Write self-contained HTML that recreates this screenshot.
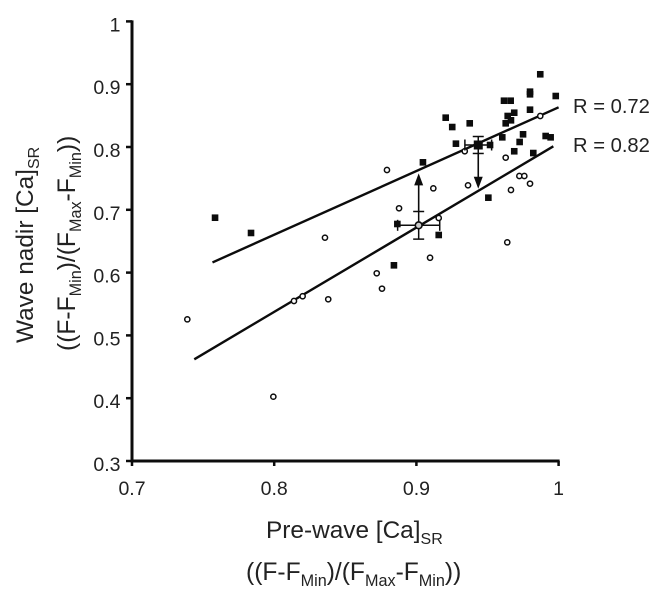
<!DOCTYPE html>
<html>
<head>
<meta charset="utf-8">
<title>Wave nadir vs pre-wave [Ca]SR</title>
<style>
html,body{margin:0;padding:0;background:#fff;width:666px;height:599px;overflow:hidden}
svg{display:block;font-family:"Liberation Sans",Arial,sans-serif;fill:#222}
</style>
</head>
<body>
<svg id="chart" xmlns="http://www.w3.org/2000/svg" width="666" height="599" viewBox="0 0 666 599">
<rect width="666" height="599" fill="#fff"/>
<g id="plot" style="filter:blur(0.35px)"></g>
<text x="266" y="538" font-size="24.4">Pre-wave [Ca]<tspan font-size="16" dy="6">SR</tspan></text>
<text x="246" y="580" font-size="24.6">((F-F<tspan font-size="16.2" dy="6">Min</tspan><tspan dy="-6">)/(F</tspan><tspan font-size="16.2" dy="6">Max</tspan><tspan dy="-6">-F</tspan><tspan font-size="16.2" dy="6">Min</tspan><tspan dy="-6">))</tspan></text>
<text transform="translate(33,343) rotate(-90)" font-size="24.4">Wave nadir [Ca]<tspan font-size="16" dy="6">SR</tspan></text>
<text transform="translate(75,351) rotate(-90)" font-size="24.6">((F-F<tspan font-size="16.2" dy="6">Min</tspan><tspan dy="-6">)/(F</tspan><tspan font-size="16.2" dy="6">Max</tspan><tspan dy="-6">-F</tspan><tspan font-size="16.2" dy="6">Min</tspan><tspan dy="-6">))</tspan></text>
<text x="573" y="113" font-size="20.2">R = 0.72</text>
<text x="573" y="152" font-size="20.2">R = 0.82</text>
</svg>
<script>
const xTicks = [0.7, 0.8, 0.9, 1];
const yTicks = [0.3, 0.4, 0.5, 0.6, 0.7, 0.8, 0.9, 1];
const squareX = [0.9871,0.9799,0.9799,0.998,0.9616,0.9663,0.9799,0.9688,0.9642,0.9665,0.9628,0.9206,0.9375,0.9252,0.9278,0.9604,0.975,0.9726,0.9909,0.9944,0.9688,0.9822,0.9518,0.9046,0.9506,0.8866,0.9157,0.7584,0.7837,0.8842];
const squareY = [0.9158,0.8881,0.8839,0.8812,0.8737,0.8737,0.8594,0.8546,0.8494,0.8425,0.8377,0.8467,0.8377,0.8318,0.8053,0.8154,0.8202,0.808,0.8175,0.8154,0.7932,0.7904,0.8032,0.7756,0.7193,0.6774,0.6599,0.6874,0.6631,0.6116];
const circleX = [0.9871,0.934,0.9628,0.8793,0.9724,0.9759,0.9799,0.9665,0.9363,0.9119,0.8878,0.9157,0.9639,0.9096,0.8357,0.8721,0.8758,0.838,0.82,0.8139,0.7389,0.7994];
const circleY = [0.8494,0.7932,0.783,0.7634,0.7538,0.7538,0.7416,0.7315,0.739,0.7342,0.7024,0.6869,0.6482,0.6237,0.6556,0.5989,0.5744,0.5575,0.5623,0.5548,0.5256,0.4024];
const fitUpperX = [0.7566, 1.0];
const fitUpperY = [0.6162, 0.8632];
const fitLowerX = [0.7438, 0.9963];
const fitLowerY = [0.4619, 0.8011];
const meanCircle = [0.9016, 0.6753];
const meanCircleErr = [0.0148, 0.022];
const meanSquare = [0.9435, 0.8032];
const meanSquareErr = [0.0094, 0.0135];
const arrowUpTip = 0.7581;
const arrowDownTip = 0.7336;

const X = v => 132 + (v - 0.7) * 1422;
const Y = v => 461 - (v - 0.3) * 628;
const NS = 'http://www.w3.org/2000/svg';
const plot = document.getElementById('plot');
const ink = '#0c0c0c';

function make(tag, attrs) {
  const el = document.createElementNS(NS, tag);
  for (const k in attrs) el.setAttribute(k, attrs[k]);
  plot.appendChild(el);
  return el;
}
function segment(x1, y1, x2, y2, w) {
  return make('line', {x1: x1, y1: y1, x2: x2, y2: y2, stroke: ink, 'stroke-width': w});
}

let el;
el = segment(X(0.7), Y(1) - 1, X(0.7), Y(0.3) + 1.5, 3);


el = segment(X(0.7) - 1.5, Y(0.3), X(1) + 1, Y(0.3), 3);



xTicks.forEach(v => {
  const t = segment(X(v), Y(0.3), X(v), Y(0.3) + 5, 2.5);
  
  
  const l = make('text', {x: X(v), y: 495, 'font-size': 19.5, 'text-anchor': 'middle', fill: '#222'});
  l.textContent = String(v);
  
  
});
yTicks.forEach(v => {
  const t = segment(X(0.7) - 6, Y(v), X(0.7), Y(v), 2.5);
  
  
  const l = make('text', {x: 120.5, y: Y(v) + 10, 'font-size': 19.5, 'text-anchor': 'end', fill: '#222'});
  l.textContent = String(v);
  
  
});

el = segment(X(fitUpperX[0]), Y(fitUpperY[0]), X(fitUpperX[1]), Y(fitUpperY[1]), 2.4);


el = segment(X(fitLowerX[0]), Y(fitLowerY[0]), X(fitLowerX[1]), Y(fitLowerY[1]), 2.4);



circleX.forEach((v, i) => {
  const c = make('circle', {cx: X(v), cy: Y(circleY[i]), r: 2.6, fill: '#fff', stroke: ink, 'stroke-width': 1.5});
  
  
});
squareX.forEach((v, i) => {
  const s = make('rect', {x: X(v) - 3.3, y: Y(squareY[i]) - 3.3, width: 6.6, height: 6.6, fill: ink});
  
  
});

function errorBars(mean, err, cap) {
  const cx = X(mean[0]), cy = Y(mean[1]);
  const x0 = X(mean[0] - err[0]), x1 = X(mean[0] + err[0]);
  const y0 = Y(mean[1] + err[1]), y1 = Y(mean[1] - err[1]);
  [[x0, cy, x1, cy], [cx, y0, cx, y1],
   [x0, cy - cap, x0, cy + cap], [x1, cy - cap, x1, cy + cap],
   [cx - cap, y0, cx + cap, y0], [cx - cap, y1, cx + cap, y1]].forEach(p => {
    const b = segment(p[0], p[1], p[2], p[3], 1.5);
    
    
  });
}
errorBars(meanCircle, meanCircleErr, 5.5);
errorBars(meanSquare, meanSquareErr, 5.5);

el = make('circle', {cx: X(meanCircle[0]), cy: Y(meanCircle[1]), r: 3.4, fill: '#ccc', stroke: ink, 'stroke-width': 1.6});


el = make('rect', {x: X(meanSquare[0]) - 4.5, y: Y(meanSquare[1]) - 4.5, width: 9, height: 9, fill: ink});



function arrow(x, from, tip, dir) {
  const l = segment(x, Y(from), x, Y(tip) - dir * 10, 1.6);
  
  
  const yt = Y(tip);
  const h = make('polygon', {points: x + ',' + yt + ' ' + (x - 4.5) + ',' + (yt - dir * 12) + ' ' + (x + 4.5) + ',' + (yt - dir * 12), fill: ink});
  
  
}
arrow(X(meanCircle[0]), meanCircle[1] + meanCircleErr[1], arrowUpTip, -1);
arrow(X(meanSquare[0]), meanSquare[1] - meanSquareErr[1], arrowDownTip, 1);
</script>
</body>
</html>
